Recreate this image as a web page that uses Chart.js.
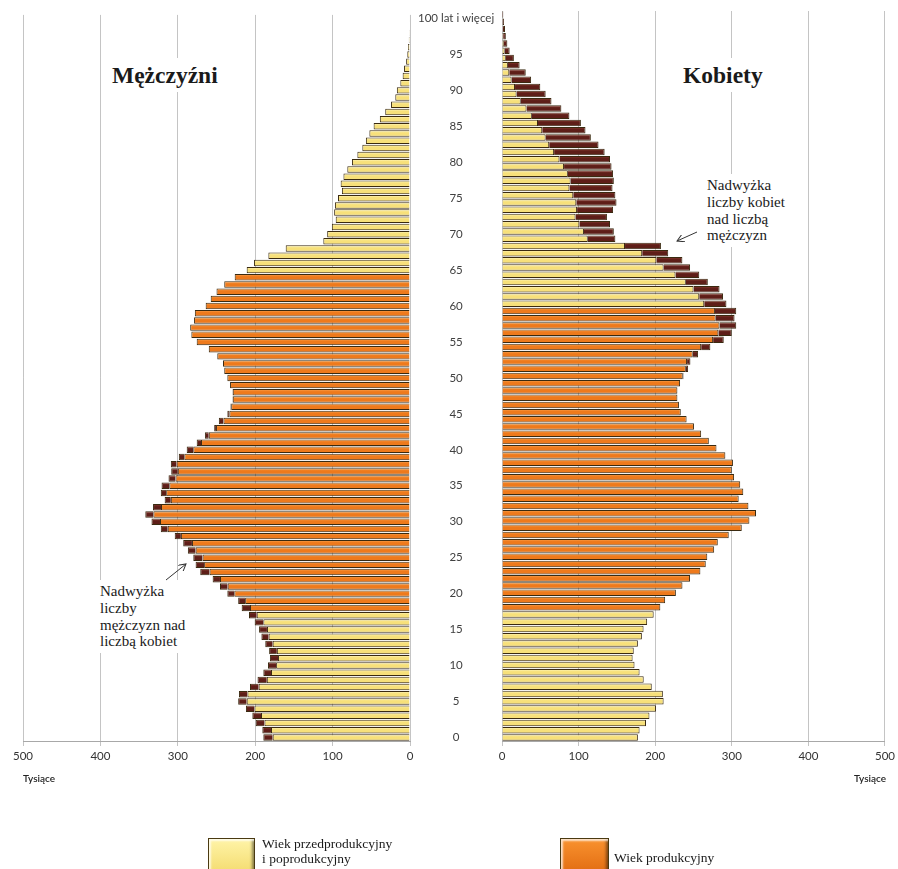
<!DOCTYPE html>
<html lang="pl">
<head>
<meta charset="utf-8">
<title>Piramida wieku</title>
<script src="https://cdn.jsdelivr.net/npm/chart.js@4"></script>
<style>
  body { margin: 0; width: 898px; height: 869px; overflow: hidden; background: #fff; position: relative; font-family: "Liberation Serif", serif; }
  canvas { position: absolute; top: 0; }
  .txt { position: absolute; background: #fff; color: #1a1a1a; }
  .title { font-weight: bold; font-size: 23.5px; line-height: 26px; padding: 4px 3px; }
  .note { font-size: 15px; line-height: 16.8px; padding: 3px 4px; }
  .unit { position: absolute; font-family: Lato, sans-serif; font-size: 10px; font-weight: 600; color: #222; }
  .sw { position: absolute; border: 1px solid #4a3a12; box-shadow: inset 2px 2px 2px rgba(255,255,255,.75), inset -2px -2px 3px rgba(0,0,0,.45); }
  .leg { position: absolute; font-size: 13.5px; line-height: 15px; color: #1a1a1a; }
</style>
</head>
<body>
<canvas id="men" width="502" height="790" style="left:0"></canvas>
<canvas id="women" width="408" height="790" style="left:490px"></canvas>

<div class="txt title" style="left:109px; top:58px">Mężczyźni</div>
<div class="txt title" style="left:680px; top:58px">Kobiety</div>
<div class="txt note" style="left:703px; top:174px">Nadwyżka<br>liczby kobiet<br>nad liczbą<br>mężczyzn</div>
<div class="txt note" style="left:96px; top:580px">Nadwyżka<br>liczby<br>mężczyzn nad<br>liczbą kobiet</div>

<svg width="898" height="869" style="position:absolute;left:0;top:0;pointer-events:none">
  <defs>
    <marker id="ah" markerWidth="8" markerHeight="8" refX="7" refY="4" orient="auto" markerUnits="userSpaceOnUse">
      <path d="M0,0 L7,4 L0,8" fill="none" stroke="#333" stroke-width="1"/>
    </marker>
  </defs>
  <line x1="697" y1="232" x2="677" y2="241" stroke="#333" stroke-width="1" marker-end="url(#ah)"/>
  <line x1="166" y1="580" x2="186" y2="564" stroke="#333" stroke-width="1" marker-end="url(#ah)"/>
</svg>

<div class="unit" style="left:23px; top:772px">Tysiące</div>
<div class="unit" style="left:854px; top:772px">Tysiące</div>

<div class="sw" style="left:208px; top:838px; width:45px; height:36px; background:linear-gradient(#fff4a8,#f3da6c)"></div>
<div class="leg" style="left:262px; top:836px">Wiek przedprodukcyjny<br>i poprodukcyjny</div>
<div class="sw" style="left:560px; top:838px; width:47px; height:36px; background:linear-gradient(#f9922f,#e06a10)"></div>
<div class="leg" style="left:614px; top:850px">Wiek produkcyjny</div>

<script>
// wiek 0..100 (100 = 100 lat i więcej)
const ages = Array.from({ length: 101 }, (_, i) => i);
const topAgeLabel = '100 lat i więcej';

// liczba ludności w tysiącach, wg wieku 0..100
const men = [
  189.5, 190.8, 199.4, 203.7, 212, 222, 221, 206.7, 197, 189.5,
  183.5, 181, 182, 187, 192, 195, 200.7, 208, 217.5, 222,
  236, 245.5, 255, 271, 277, 280, 287, 293, 304, 322,
  334, 342, 332, 317, 322, 321, 312, 308.5, 309, 298.7,
  288.5, 275.6, 265, 253, 247, 236, 232, 229.5, 229.5, 232.5,
  236, 240, 241.6, 249, 260, 275.6, 282.5, 284, 279, 278,
  264, 257.5, 250, 240, 226.5, 211, 201.5, 183, 160.6, 112,
  107, 101, 96, 98, 97, 93, 88, 89.6, 86, 81,
  75, 68, 61.6, 57, 52.5, 47, 39, 32, 24.5, 19,
  17, 12.5, 9.5, 7.7, 5, 3.5, 2.5, 1.5, 1, 0.7,
  0.5
];
const women = [
  177.4, 179.6, 188, 192.5, 201, 211, 210, 195.5, 185, 179.6,
  173, 170.5, 172, 177.4, 182.6, 184.8, 189.5, 198, 206.7, 213,
  227, 235.6, 245.5, 259, 266, 268, 277, 281.7, 296, 313,
  323, 331.6, 321.7, 309, 315, 311, 303, 300, 301.5, 291.6,
  280, 270, 260, 250.6, 241, 233.4, 231, 229, 229, 232.5,
  237, 243, 246, 256, 272, 289.5, 300, 305.8, 303.6, 305.8,
  293, 288.5, 284, 268.7, 257.5, 245.5, 235.5, 217, 207.5, 148,
  146, 141, 137, 145, 149.5, 148, 144.3, 146, 145, 143,
  141, 134, 126, 116, 109, 103, 88, 77.5, 64.6, 57,
  50, 38, 31, 23, 15.5, 10, 7, 5, 3.9, 2.6,
  1.7
];

// wiek produkcyjny [od, do]
const menWorkingAge = [18, 64];
const womenWorkingAge = [18, 59];

const xTicks = [0, 100, 200, 300, 400, 500];

const yellow = { hi: '#fff8c4', mid: '#f7e07a', lo: '#a88a30' };
const orange = { hi: '#fba552', mid: '#ee7a1c', lo: '#9c4608' };
const maroon = { hi: '#8c3c32', mid: '#5e1e18', lo: '#32100c' };

function shade(pick) {
  return ctx => {
    const pal = pick(ctx.dataIndex);
    const ys = ctx.chart.scales.y;
    if (ctx.type !== 'data' || !ys) return pal.mid;
    const y = ys.getPixelForValue(ctx.dataIndex);
    const h = ys.height / ages.length * 0.45;
    if (!Number.isFinite(y) || !Number.isFinite(h) || h <= 0) return pal.mid;
    const g = ctx.chart.ctx.createLinearGradient(0, y - h, 0, y + h);
    g.addColorStop(0, pal.hi);
    g.addColorStop(0.4, pal.mid);
    g.addColorStop(0.8, pal.mid);
    g.addColorStop(1, pal.lo);
    return g;
  };
}

function makeDatasets(own, other, working) {
  const base = ages.map(i => Math.min(own[i], other[i]));
  const surplus = ages.map(i => Math.max(own[i] - other[i], 0));
  const barOpts = { borderColor: '#3a2a10', borderWidth: 1, barPercentage: 0.9, categoryPercentage: 1 };
  return [
    { data: base, backgroundColor: shade(i => (i >= working[0] && i <= working[1]) ? orange : yellow), ...barOpts },
    { data: surplus, backgroundColor: shade(() => maroon), ...barOpts }
  ];
}

const tickFont = { family: 'Lato, sans-serif', size: 11.5 };

function xScale(reverse) {
  return {
    stacked: true, reverse, min: 0, max: 500,
    afterBuildTicks: s => { s.ticks = xTicks.map(v => ({ value: v })); },
    ticks: { font: tickFont, color: '#333', padding: 3 },
    grid: { color: '#c4c4c4', tickLength: 5 },
    border: { color: '#a8a8a8' },
    afterFit: s => { s.height = 49; }
  };
}

const common = {
  responsive: false, animation: false, indexAxis: 'y',
  plugins: { legend: { display: false }, tooltip: { enabled: false } }
};

new Chart(document.getElementById('men'), {
  type: 'bar',
  data: { labels: ages, datasets: makeDatasets(men, women, menWorkingAge) },
  options: {
    ...common,
    layout: { padding: { left: 23, top: 11, right: 0, bottom: 0 } },
    scales: {
      x: xScale(true),
      y: {
        stacked: true, position: 'right', reverse: true,
        grid: { display: false, drawTicks: false }, border: { display: false },
        ticks: {
          autoSkip: false, crossAlign: 'center', padding: 8, font: tickFont, color: '#404040',
          callback: (v, i) => i === 100 ? topAgeLabel : (i % 5 === 0 ? String(i) : '')
        },
        afterFit: s => { s.width = 92; }
      }
    }
  }
});

new Chart(document.getElementById('women'), {
  type: 'bar',
  data: { labels: ages, datasets: makeDatasets(women, men, womenWorkingAge) },
  options: {
    ...common,
    layout: { padding: { left: 12, top: 11, right: 9, bottom: 0 } },
    scales: {
      x: xScale(false),
      y: { stacked: true, reverse: true, display: false }
    }
  }
});
</script>
</body>
</html>
